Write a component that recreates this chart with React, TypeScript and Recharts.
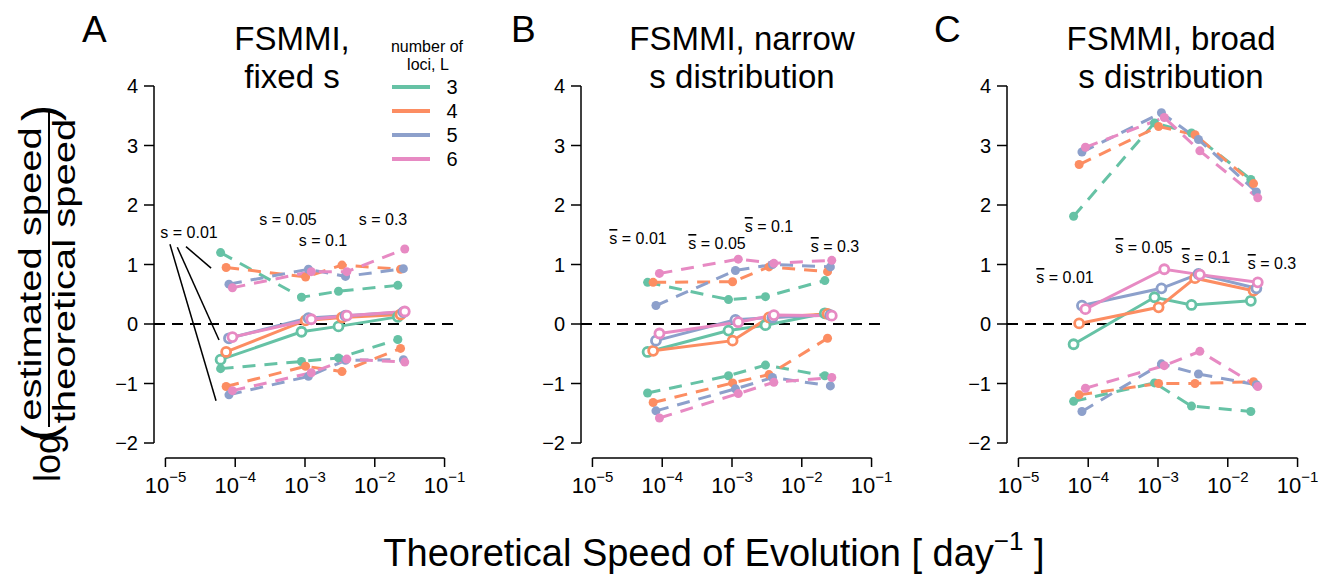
import React from 'react'
import { LineChart, Line, XAxis, YAxis, ReferenceLine } from 'recharts'

const LOCI = [3, 4, 5, 6]
const COLORS = ['#66C2A5', '#FC8D62', '#8DA0CB', '#E78AC3']
const S_LABELS = ['0.01', '0.05', '0.1', '0.3']

// theoretical speed of evolution (day^-1), one row per L, one column per s
const SPEED = [
  [6.17e-5, 8.91e-4, 3.02e-3, 2.14e-2],
  [7.41e-5, 1.02e-3, 3.39e-3, 2.34e-2],
  [8.13e-5, 1.12e-3, 3.8e-3, 2.57e-2],
  [9.12e-5, 1.23e-3, 3.98e-3, 2.69e-2],
]

// A: fixed s
const A_UPPER = [
  [1.2, 0.45, 0.55, 0.65],
  [0.95, 0.79, 0.99, 0.92],
  [0.67, 0.92, 0.8, 0.93],
  [0.61, 0.88, 0.88, 1.26],
]
const A_MID = [
  [-0.6, -0.13, -0.04, 0.12],
  [-0.47, 0.06, 0.11, 0.16],
  [-0.24, 0.1, 0.14, 0.2],
  [-0.22, 0.08, 0.14, 0.21],
]
const A_LOWER = [
  [-0.75, -0.63, -0.57, -0.26],
  [-1.05, -0.71, -0.8, -0.41],
  [-1.19, -0.88, -0.61, -0.6],
  [-1.12, -0.82, -0.59, -0.64],
]

// B: narrow s distribution
const B_UPPER = [
  [0.7, 0.41, 0.46, 0.73],
  [0.7, 0.71, 0.96, 0.88],
  [0.31, 0.9, 1.0, 0.96],
  [0.85, 1.09, 1.02, 1.07],
]
const B_MID = [
  [-0.47, -0.11, -0.02, 0.18],
  [-0.45, -0.28, 0.11, 0.17],
  [-0.28, 0.07, 0.11, 0.15],
  [-0.16, 0.03, 0.15, 0.14],
]
const B_LOWER = [
  [-1.16, -0.87, -0.69, -0.87],
  [-1.32, -0.99, -0.85, -0.24],
  [-1.46, -1.09, -0.9, -1.04],
  [-1.58, -1.17, -0.98, -0.9],
]

// C: broad s distribution
const C_UPPER = [
  [1.81, 3.38, 3.21, 2.43],
  [2.68, 3.32, 3.18, 2.36],
  [2.89, 3.55, 3.1, 2.22],
  [2.97, 3.47, 2.91, 2.12],
]
const C_MID = [
  [-0.34, 0.45, 0.32, 0.39],
  [0.01, 0.28, 0.77, 0.56],
  [0.31, 0.6, 0.84, 0.6],
  [0.25, 0.92, 0.83, 0.7],
]
const C_LOWER = [
  [-1.3, -0.99, -1.38, -1.47],
  [-1.19, -1.0, -1.0, -0.97],
  [-1.47, -0.67, -0.84, -1.02],
  [-1.08, -0.7, -0.46, -1.05],
]

// pointer lines from the "s = 0.01" label in panel A
const A_POINTERS = [
  [{ x: 1.97e-5, y: 1.3 }, { x: 4.51e-5, y: 0.94 }],
  [{ x: 1.48e-5, y: 1.29 }, { x: 5.86e-5, y: -0.27 }],
  [{ x: 1.16e-5, y: 1.34 }, { x: 5.31e-5, y: -1.29 }],
]

const X_TICKS = [1e-5, 1e-4, 1e-3, 1e-2, 1e-1]
const Y_TICKS = [-2, -1, 0, 1, 2, 3, 4]
const X_DOMAIN = [Math.pow(10, -5.164), Math.pow(10, -0.836)]
const Y_DOMAIN = [-2.252, 4.252]

const FONT = '"Liberation Sans", Arial, Helvetica, sans-serif'

const LogTick = (props: any) => {
  const { x, y, payload } = props
  const exp = Math.round(Math.log10(payload.value))
  return (
    <text x={x} y={y + 24} textAnchor="middle" fontSize={22} fill="#000" fontFamily={FONT}>
      <tspan>10</tspan>
      <tspan dy={-11} fontSize={15}>{`\u2212${-exp}`}</tspan>
    </text>
  )
}

const fmtY = (v: number) => (v < 0 ? `\u2212${-v}` : `${v}`)

interface PanelProps {
  left: number
  upper: number[][]
  mid: number[][]
  lower: number[][]
  pointers?: { x: number; y: number }[][]
}

function Panel({ left, upper, mid, lower, pointers = [] }: PanelProps) {
  const rows = (band: number[][], i: number) =>
    SPEED[i].map((x, j) => ({ x, y: band[i][j] }))

  return (
    <div style={{ position: 'absolute', left, top: 0 }}>
      <LineChart width={480} height={578} margin={{ top: 71, right: 24, left: 0, bottom: 0 }}>
        <XAxis
          type="number"
          dataKey="x"
          scale="log"
          domain={X_DOMAIN}
          allowDataOverflow
          ticks={X_TICKS}
          interval={0}
          axisLine={false}
          tickLine={{ stroke: '#000', strokeWidth: 1.5 }}
          tickSize={9}
          height={120}
          tick={<LogTick />}
        />
        <YAxis
          type="number"
          domain={Y_DOMAIN}
          allowDataOverflow
          ticks={Y_TICKS}
          interval={0}
          axisLine={false}
          tickLine={{ stroke: '#000', strokeWidth: 1.5 }}
          tickSize={10}
          tickMargin={6}
          width={154}
          tick={{ fontSize: 20, fill: '#000', fontFamily: FONT }}
          tickFormatter={fmtY}
        />
        <ReferenceLine y={0} stroke="#000" strokeWidth={2} strokeDasharray="11 7" />
        <ReferenceLine
          segment={[{ x: X_TICKS[0], y: Y_DOMAIN[0] }, { x: X_TICKS[4], y: Y_DOMAIN[0] }]}
          stroke="#000"
          strokeWidth={1.5}
          ifOverflow="visible"
        />
        <ReferenceLine
          segment={[{ x: X_DOMAIN[0], y: -2 }, { x: X_DOMAIN[0], y: 4 }]}
          stroke="#000"
          strokeWidth={1.5}
          ifOverflow="visible"
        />
        {pointers.map((seg, k) => (
          <ReferenceLine key={`p${k}`} segment={seg} stroke="#000" strokeWidth={1.5} ifOverflow="visible" />
        ))}
        {LOCI.map((L, i) => [
          <Line
            key={`u${L}`}
            data={rows(upper, i)}
            dataKey="y"
            type="linear"
            stroke={COLORS[i]}
            strokeWidth={3}
            strokeDasharray="13 9"
            dot={{ r: 4.5, fill: COLORS[i], stroke: 'none', strokeDasharray: 'none' }}
            activeDot={false}
            isAnimationActive={false}
          />,
          <Line
            key={`l${L}`}
            data={rows(lower, i)}
            dataKey="y"
            type="linear"
            stroke={COLORS[i]}
            strokeWidth={3}
            strokeDasharray="13 9"
            dot={{ r: 4.5, fill: COLORS[i], stroke: 'none', strokeDasharray: 'none' }}
            activeDot={false}
            isAnimationActive={false}
          />,
          <Line
            key={`m${L}`}
            data={rows(mid, i)}
            dataKey="y"
            type="linear"
            stroke={COLORS[i]}
            strokeWidth={3}
            dot={{ r: 4.5, fill: '#fff', stroke: COLORS[i], strokeWidth: 2.8, strokeDasharray: 'none' }}
            activeDot={false}
            isAnimationActive={false}
          />,
        ])}
      </LineChart>
    </div>
  )
}

const SLabel = ({ x, y, label, bar }: { x: number; y: number; label: string; bar?: boolean }) => (
  <text x={x} y={y} textAnchor="middle" fontSize={16} fill="#000">
    <tspan style={bar ? { textDecoration: 'overline' } : undefined}>s</tspan>
    {` = ${label}`}
  </text>
)

export default function App() {
  return (
    <div
      style={{
        position: 'absolute',
        left: 0,
        top: 0,
        width: 1330,
        height: 578,
        background: '#fff',
        fontFamily: FONT,
        overflow: 'hidden',
      }}
    >
      <Panel left={0} upper={A_UPPER} mid={A_MID} lower={A_LOWER} pointers={A_POINTERS} />
      <Panel left={427} upper={B_UPPER} mid={B_MID} lower={B_LOWER} />
      <Panel left={853} upper={C_UPPER} mid={C_MID} lower={C_LOWER} />

      <svg
        width={1330}
        height={578}
        style={{ position: 'absolute', left: 0, top: 0, pointerEvents: 'none', fontFamily: FONT }}
      >
        {/* panel letters and titles */}
        <text x={82} y={42} fontSize={37}>A</text>
        <text x={511} y={42} fontSize={37}>B</text>
        <text x={934} y={42} fontSize={37}>C</text>

        <g fontSize={33} textAnchor="middle">
          <text x={292} y={50}>FSMMI,</text>
          <text x={292} y={88}>fixed s</text>
          <text x={742} y={50}>FSMMI, narrow</text>
          <text x={742} y={88}>s distribution</text>
          <text x={1171} y={50}>FSMMI, broad</text>
          <text x={1171} y={88}>s distribution</text>
        </g>

        {/* legend */}
        <g textAnchor="middle">
          <text x={427} y={52} fontSize={16}>number of</text>
          <text x={428} y={70} fontSize={16}>loci, L</text>
        </g>
        {LOCI.map((L, i) => (
          <g key={L}>
            <line x1={392} x2={430} y1={87 + i * 24} y2={87 + i * 24} stroke={COLORS[i]} strokeWidth={4} />
            <text x={452} y={94 + i * 24} fontSize={20} textAnchor="middle">{L}</text>
          </g>
        ))}

        {/* s labels */}
        <SLabel x={189} y={238} label={S_LABELS[0]} />
        <SLabel x={288} y={225} label={S_LABELS[1]} />
        <SLabel x={323} y={246} label={S_LABELS[2]} />
        <SLabel x={383} y={225} label={S_LABELS[3]} />

        <SLabel x={638} y={244} label={S_LABELS[0]} bar />
        <SLabel x={717} y={249} label={S_LABELS[1]} bar />
        <SLabel x={769} y={232} label={S_LABELS[2]} bar />
        <SLabel x={835} y={252} label={S_LABELS[3]} bar />

        <SLabel x={1065} y={283} label={S_LABELS[0]} bar />
        <SLabel x={1144} y={253} label={S_LABELS[1]} bar />
        <SLabel x={1206} y={263} label={S_LABELS[2]} bar />
        <SLabel x={1272} y={269} label={S_LABELS[3]} bar />

        {/* y axis label: log( estimated speed / theoretical speed ) */}
        <text transform="translate(60, 482) rotate(-90)" fontSize={36}>log</text>
        <text transform="translate(56, 441) rotate(-90)" fontSize={48}>(</text>
        <text transform="translate(41, 274) rotate(-90) scale(1, 0.8)" fontSize={40} textAnchor="middle">
          estimated speed
        </text>
        <line x1={49} x2={49} y1={110} y2={427} stroke="#000" strokeWidth={2} />
        <text transform="translate(75, 271) rotate(-90) scale(1, 0.8)" fontSize={40} textAnchor="middle">
          theoretical speed
        </text>
        <text transform="translate(56, 121) rotate(-90)" fontSize={48}>)</text>

        {/* x axis label */}
        <text x={714} y={566} fontSize={38} textAnchor="middle">
          Theoretical Speed of Evolution [ day
          <tspan dy={-16} fontSize={26}>{'\u22121'}</tspan>
          <tspan dy={16}> ]</tspan>
        </text>
      </svg>
    </div>
  )
}
